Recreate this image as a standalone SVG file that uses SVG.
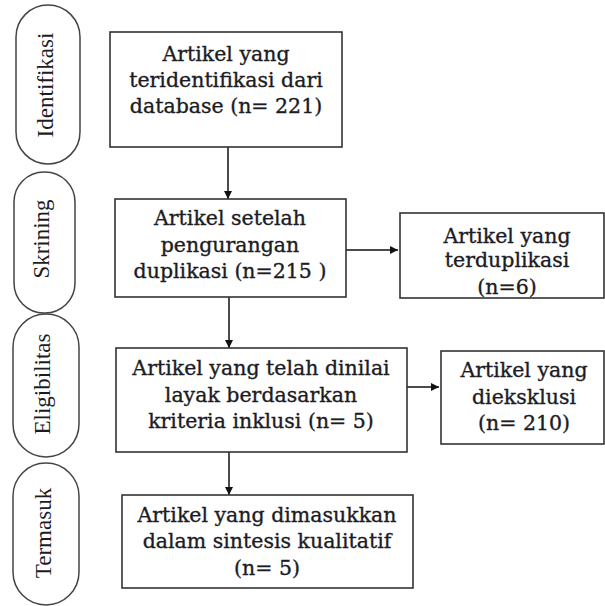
<svg xmlns="http://www.w3.org/2000/svg" width="605" height="606" viewBox="0 0 605 606">
<style>
.box{fill:#fff;stroke:#333;stroke-width:1.6}
.pill{fill:#fff;stroke:#444;stroke-width:1.5}
.t{font-family:"DejaVu Serif",serif;font-size:20.5px;fill:#1c1c24;stroke:#1c1c24;stroke-width:0.35;text-anchor:middle}
.p{font-family:"Liberation Serif","DejaVu Serif",serif;font-size:23px;fill:#1c1c24;text-anchor:middle}
.c{stroke:#111;stroke-width:1.5;fill:none;marker-end:url(#ah)}
</style>
<defs>
<marker id="ah" viewBox="0 0 10 10" refX="10" refY="5" markerWidth="8" markerHeight="8" markerUnits="userSpaceOnUse" orient="auto">
<path d="M0,0 L10,5 L0,10 z" fill="#111"/>
</marker>
</defs>
<rect width="605" height="606" fill="#fff"/>
<g id="stage-identifikasi">
<rect class="pill" x="16" y="5" width="64" height="159" rx="32" ry="32"/>
<text class="p" transform="translate(53,85) rotate(-90)">Identifikasi</text>
</g>
<g id="stage-skrining">
<rect class="pill" x="14" y="172" width="61" height="141" rx="30" ry="30"/>
<text class="p" transform="translate(49,239) rotate(-90)">Skrining</text>
</g>
<g id="stage-eligibilitas">
<rect class="pill" x="13" y="314" width="66" height="143" rx="33" ry="33"/>
<text class="p" transform="translate(50,384) rotate(-90)">Eligibilitas</text>
</g>
<g id="stage-termasuk">
<rect class="pill" x="13" y="463" width="66" height="142" rx="33" ry="33"/>
<text class="p" transform="translate(51,533) rotate(-90)">Termasuk</text>
</g>
<g id="connectors">
<line class="c" x1="228" y1="147" x2="228" y2="199"/>
<line class="c" x1="346" y1="250" x2="398" y2="250"/>
<line class="c" x1="229" y1="297" x2="229" y2="348"/>
<line class="c" x1="407" y1="387" x2="439" y2="387"/>
<line class="c" x1="229" y1="452" x2="229" y2="495"/>
</g>
<g id="n1">
<rect class="box" x="110" y="32" width="232" height="115"/>
<text class="t" x="226" y="61">Artikel yang</text>
<text class="t" x="226" y="87">teridentifikasi dari</text>
<text class="t" x="226" y="113">database (n= 221)</text>
</g>
<g id="n2">
<rect class="box" x="115" y="199" width="231" height="98"/>
<text class="t" x="230" y="225">Artikel setelah</text>
<text class="t" x="230" y="252">pengurangan</text>
<text class="t" x="230" y="278">duplikasi (n=215 )</text>
</g>
<g id="n3">
<text class="t" x="507" y="243">Artikel yang</text>
<text class="t" x="507" y="267">terduplikasi</text>
<text class="t" x="507" y="294">(n=6)</text>
<rect class="box" x="400" y="213" width="204" height="85" style="fill:none"/>
</g>
<g id="n4">
<rect class="box" x="116" y="348" width="291" height="104"/>
<text class="t" x="261" y="375">Artikel yang telah dinilai</text>
<text class="t" x="261" y="402">layak berdasarkan</text>
<text class="t" x="261" y="428">kriteria inklusi (n= 5)</text>
</g>
<g id="n5">
<rect class="box" x="441" y="351" width="163" height="93"/>
<text class="t" x="524" y="377">Artikel yang</text>
<text class="t" x="524" y="404">dieksklusi</text>
<text class="t" x="524" y="430">(n= 210)</text>
</g>
<g id="n6">
<rect class="box" x="122" y="495" width="291" height="93"/>
<text class="t" x="267" y="522">Artikel yang dimasukkan</text>
<text class="t" x="267" y="548">dalam sintesis kualitatif</text>
<text class="t" x="267" y="575">(n= 5)</text>
</g>
</svg>
